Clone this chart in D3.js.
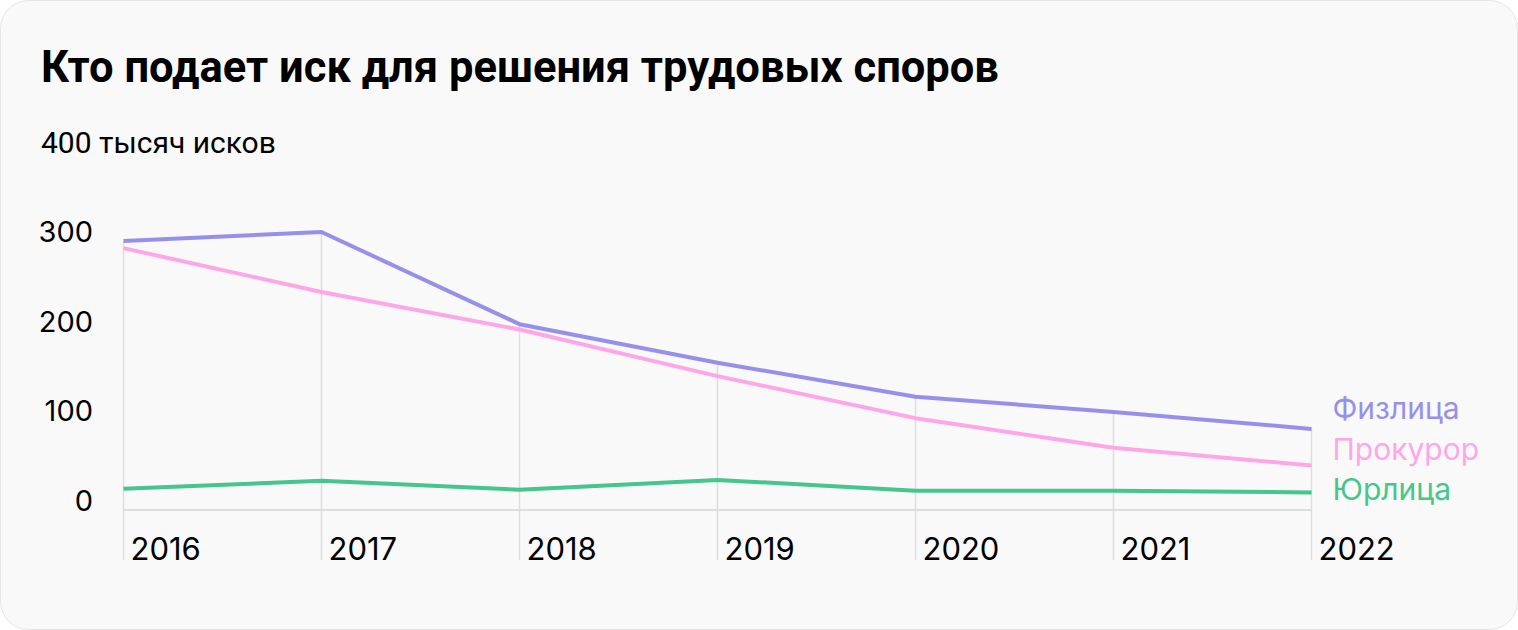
<!DOCTYPE html>
<html>
<head>
<meta charset="utf-8">
<script src="https://cdn.jsdelivr.net/npm/d3@7"></script>
<style>
  body { margin: 0; background: #ffffff; }
  .title { font-family: Roboto, sans-serif; font-weight: 700; font-size: 43.5px; fill: #000; }
  .unit { font-family: Roboto, sans-serif; font-size: 30px; fill: #000; }
  .y-label { font-family: Inter, sans-serif; font-size: 29px; fill: #000; }
  .x-label { font-family: Inter, sans-serif; font-size: 31px; fill: #000; }
  .legend { font-family: Inter, sans-serif; font-size: 30px; }
</style>
</head>
<body>
<div id="chart"></div>
<script>
const years = [2016, 2017, 2018, 2019, 2020, 2021, 2022];
const fizlica = [290, 300, 197, 154, 116, 99, 80];
const prokuror = [282, 233, 191, 139, 92, 59, 39];
const yurlica = [13, 22, 12, 23, 11, 11, 9];
const yTicks = [0, 100, 200, 300];

const series = [
    { name: 'Физлица', values: fizlica, color: '#9790ea' },
    { name: 'Прокурор', values: prokuror, color: '#ffa6e9' },
    { name: 'Юрлица', values: yurlica, color: '#45c68a' }
];

const width = 1518, height = 630;

const svg = d3.select('#chart').append('svg')
    .attr('width', width)
    .attr('height', height);

// card background
svg.append('rect')
    .attr('x', 0.5).attr('y', 0.5)
    .attr('width', width - 1).attr('height', height - 1)
    .attr('rx', 28)
    .style('fill', '#f9f9f9')
    .style('stroke', '#e6e6e6');

svg.append('text')
    .attr('class', 'title')
    .attr('x', 41).attr('y', 82)
    .text('Кто подает иск для решения трудовых споров');

const x = d3.scalePoint().domain(years).range([123.5, 1311.5]);
const y = d3.scaleLinear().domain([0, 400]).range([500.5, 142.5]);

const base = y(0) + 9.5;
const bottom = 560;

// drop lines from the top value of each year
svg.append('g').selectAll('line')
    .data(years)
    .join('line')
    .attr('x1', d => x(d)).attr('x2', d => x(d))
    .attr('y1', (d, i) => y(d3.max(series, s => s.values[i])))
    .attr('y2', bottom)
    .style('stroke', '#dedede')
    .style('stroke-width', 1.5);

// baseline
svg.append('line')
    .attr('x1', x(years[0])).attr('x2', x(years[years.length - 1]))
    .attr('y1', base).attr('y2', base)
    .style('stroke', '#dedede')
    .style('stroke-width', 2);

// y labels
svg.append('g').selectAll('text')
    .data(yTicks)
    .join('text')
    .attr('class', 'y-label')
    .attr('x', 93)
    .attr('y', d => y(d))
    .attr('dy', '0.35em')
    .attr('text-anchor', 'end')
    .text(d => d);

svg.append('text')
    .attr('class', 'unit')
    .attr('x', 41)
    .attr('y', y(400))
    .attr('dy', '0.35em')
    .text('400 тысяч исков');

// x labels
svg.append('g').selectAll('text')
    .data(years)
    .join('text')
    .attr('class', 'x-label')
    .attr('x', d => x(d) + 7)
    .attr('y', 549)
    .attr('dy', '0.35em')
    .text(d => d);

const line = d3.line()
    .x((d, i) => x(years[i]))
    .y(d => y(d));

svg.append('g').selectAll('path')
    .data(series.slice().reverse())
    .join('path')
    .attr('d', d => line(d.values))
    .style('fill', 'none')
    .style('stroke', d => d.color)
    .style('stroke-width', 4)
    .style('stroke-linejoin', 'round');

// legend
svg.append('g').selectAll('text')
    .data(series)
    .join('text')
    .attr('class', 'legend')
    .attr('x', x(years[years.length - 1]) + 21)
    .attr('y', (d, i) => y(0) - 92 + i * 40.5)
    .attr('dy', '0.35em')
    .style('fill', d => d.color)
    .text(d => d.name);
</script>
</body>
</html>
